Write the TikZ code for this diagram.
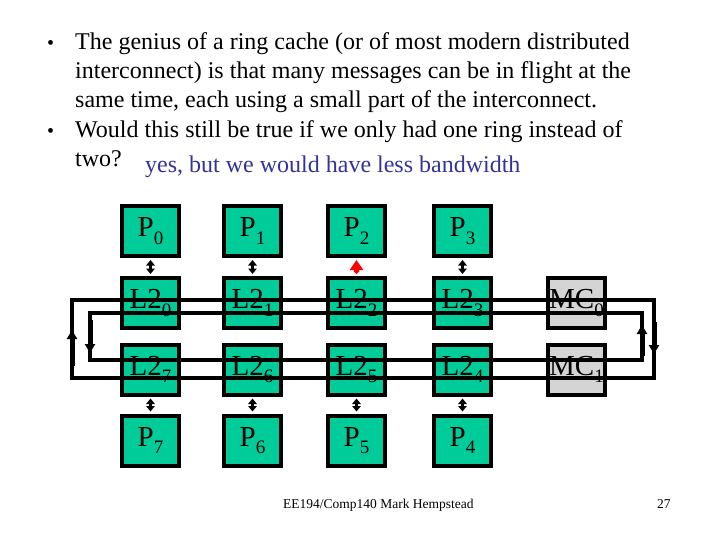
\documentclass[tikz,border=0pt]{standalone}
\usepackage{fontspec}
\setmainfont{Liberation Serif}
\usetikzlibrary{arrows.meta}
\definecolor{boxgreen}{RGB}{0,204,153}
\definecolor{mcgray}{RGB}{212,212,212}
\definecolor{ansblue}{RGB}{51,51,153}
\newcommand{\mysub}[1]{\raisebox{-0.55ex}{\fontsize{19}{20}\selectfont #1}}
\tikzset{
  cell/.style={draw=black, line width=4pt, fill=boxgreen, minimum width=57pt, minimum height=50pt, inner sep=0pt, font=\fontsize{29}{31}\selectfont},
  mccell/.style={cell, fill=mcgray},
  ring/.style={draw=black, line width=4pt, line join=miter},
  ringarrow/.style={draw=black, line width=5pt, -{Triangle[length=9pt,width=10pt]}},
  biarrow/.style={draw=black, line width=3.5pt, {Triangle[length=5.5pt,width=8.5pt]}-{Triangle[length=5.5pt,width=8.5pt]}, shorten <=2pt, shorten >=2pt},
  redarrow/.style={draw=red, line width=4.5pt, {Triangle[length=3pt,width=6pt]}-{Triangle[length=10pt,width=13pt]}, shorten <=2pt, shorten >=2pt},
  txt/.style={anchor=base west, inner sep=0pt, font=\fontsize{24}{26}\selectfont},
  foot/.style={anchor=base west, inner sep=0pt, font=\fontsize{13.5}{15}\selectfont}
}
\begin{document}
\begin{tikzpicture}[x=1pt,y=-1pt]
\useasboundingbox (0,0) rectangle (720,540);

% text
\node[txt, font=\fontsize{20}{22}\selectfont] (b1) at (47,50) {•};
\node[txt] (t1) at (75,50) {The genius of a ring cache (or of most modern distributed};
\node[txt] (t2) at (75,79) {interconnect) is that many messages can be in flight at the};
\node[txt] (t3) at (75,108) {same time, each using a small part of the interconnect.};
\node[txt, font=\fontsize{20}{22}\selectfont] (b2) at (47,138) {•};
\node[txt] (t4) at (75,138) {Would this still be true if we only had one ring instead of};
\node[txt] (t5) at (75,167) {two?};
\node[txt, text=ansblue] (ans) at (145,173) {yes, but we would have less bandwidth};

% boxes
\node[cell] (P0) at (150.5,231) {P\mysub{0}};
\node[cell] (P1) at (252.5,231) {P\mysub{1}};
\node[cell] (P2) at (356.5,231) {P\mysub{2}};
\node[cell] (P3) at (462.5,231) {P\mysub{3}};
\node[cell] (L20) at (150.5,303) {L2\mysub{0}};
\node[cell] (L21) at (252.5,303) {L2\mysub{1}};
\node[cell] (L22) at (356.5,303) {L2\mysub{2}};
\node[cell] (L23) at (462.5,303) {L2\mysub{3}};
\node[mccell] (MC0) at (576.5,303) {MC\mysub{0}};
\node[cell] (L27) at (150.5,369.5) {L2\mysub{7}};
\node[cell] (L26) at (252.5,369.5) {L2\mysub{6}};
\node[cell] (L25) at (356.5,369.5) {L2\mysub{5}};
\node[cell] (L24) at (462.5,369.5) {L2\mysub{4}};
\node[mccell] (MC1) at (576.5,369.5) {MC\mysub{1}};
\node[cell] (P7) at (150.5,440.5) {P\mysub{7}};
\node[cell] (P6) at (252.5,440.5) {P\mysub{6}};
\node[cell] (P5) at (356.5,440.5) {P\mysub{5}};
\node[cell] (P4) at (462.5,440.5) {P\mysub{4}};

% P-L2 links
\draw[biarrow] (P0) -- (L20);
\draw[biarrow] (P1) -- (L21);
\draw[redarrow] (L22) -- (P2);
\draw[biarrow] (P3) -- (L23);
\draw[biarrow] (L27) -- (P7);
\draw[biarrow] (L26) -- (P6);
\draw[biarrow] (L25) -- (P5);
\draw[biarrow] (L24) -- (P4);

% rings
\coordinate (oTL) at (72,300);
\coordinate (oTR) at (654,300);
\coordinate (oBR) at (654,378);
\coordinate (oBL) at (72,378);
\coordinate (iTL) at (90,313);
\coordinate (iTR) at (642,313);
\coordinate (iBR) at (642,360);
\coordinate (iBL) at (90,360);
\draw[ring] (oTL) -- (oTR) -- (oBR) -- (oBL) -- cycle;
\draw[ring] (iTL) -- (iTR) -- (iBR) -- (iBL) -- cycle;

\coordinate (a1s) at (72,366);
\coordinate (a1e) at (72,330);
\coordinate (a2s) at (90,320);
\coordinate (a2e) at (90,353);
\coordinate (a3s) at (642,356);
\coordinate (a3e) at (642,325);
\coordinate (a4s) at (654,322);
\coordinate (a4e) at (654,354);
\draw[ringarrow] (a1s) -- (a1e);
\draw[ringarrow] (a2s) -- (a2e);
\draw[ringarrow] (a3s) -- (a3e);
\draw[ringarrow] (a4s) -- (a4e);

% footer
\node[foot] (ft) at (283,508) {EE194/Comp140 Mark Hempstead};
\node[foot] (pg) at (657,508) {27};
\end{tikzpicture}
\end{document}
